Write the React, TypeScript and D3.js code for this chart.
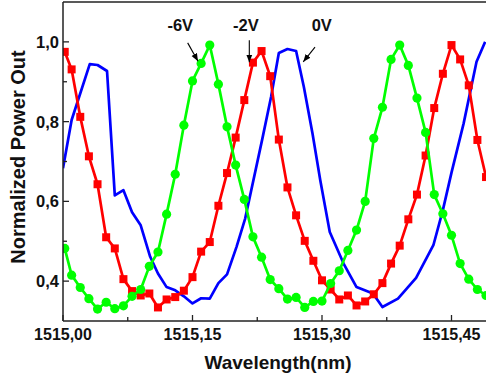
import React, { useEffect } from "react";
import * as d3 from "d3";

const wavelengths = [
  1515.002, 1515.01, 1515.02, 1515.03, 1515.04, 1515.05, 1515.06, 1515.07, 1515.08, 1515.09,
  1515.10, 1515.11, 1515.12, 1515.13, 1515.14, 1515.15, 1515.16, 1515.17, 1515.18, 1515.19,
  1515.20, 1515.21, 1515.22, 1515.23, 1515.24, 1515.25, 1515.26, 1515.27, 1515.28, 1515.29,
  1515.30, 1515.31, 1515.32, 1515.33, 1515.34, 1515.35, 1515.36, 1515.37, 1515.38, 1515.39,
  1515.40, 1515.41, 1515.42, 1515.43, 1515.44, 1515.45, 1515.46, 1515.47, 1515.48, 1515.49,
];

const red2V = [
  0.975, 0.931, 0.812, 0.713, 0.643, 0.51, 0.482, 0.405, 0.375, 0.364,
  0.369, 0.334, 0.354, 0.36, 0.376, 0.41, 0.474, 0.498, 0.589, 0.671,
  0.76, 0.854, 0.948, 0.977, 0.914, 0.755, 0.635, 0.565, 0.501, 0.451,
  0.402, 0.379, 0.354, 0.364, 0.339, 0.349, 0.367, 0.395, 0.444, 0.489,
  0.555, 0.617, 0.715, 0.834, 0.92, 0.992, 0.956, 0.891, 0.754, 0.661,
];

const green6V = [
  0.482, 0.415, 0.384, 0.356, 0.33, 0.347, 0.331, 0.338, 0.362, 0.379,
  0.437, 0.473, 0.568, 0.668, 0.791, 0.902, 0.946, 0.992, 0.894, 0.787,
  0.691, 0.605, 0.511, 0.46, 0.404, 0.381, 0.355, 0.359, 0.334, 0.349,
  0.35, 0.394, 0.426, 0.477, 0.528, 0.6, 0.758, 0.836, 0.956, 0.992,
  0.941, 0.859, 0.773, 0.617, 0.569, 0.515, 0.444, 0.405, 0.379, 0.364,
];

const blueWavelengths = [
  1515.0, 1515.01, 1515.031, 1515.04, 1515.051, 1515.06, 1515.07, 1515.08, 1515.09, 1515.101,
  1515.11, 1515.12, 1515.13, 1515.14, 1515.15, 1515.16, 1515.17, 1515.18, 1515.19, 1515.201,
  1515.211, 1515.231, 1515.241, 1515.25, 1515.26, 1515.27, 1515.279, 1515.289, 1515.298, 1515.309,
  1515.325, 1515.34, 1515.359, 1515.37, 1515.388, 1515.409, 1515.429, 1515.44, 1515.45, 1515.464,
  1515.479, 1515.489,
];
const blue0V = [
  0.683, 0.804, 0.944, 0.942, 0.927, 0.615, 0.628, 0.573, 0.54, 0.461,
  0.419, 0.385, 0.377, 0.362, 0.344, 0.357, 0.356, 0.395, 0.417, 0.486,
  0.557, 0.758, 0.862, 0.972, 0.982, 0.977, 0.887, 0.77, 0.653, 0.523,
  0.444, 0.385, 0.369, 0.335, 0.356, 0.408, 0.49, 0.578, 0.672, 0.795,
  0.95, 1.0,
];

const xMajorTicks = [1515.0, 1515.15, 1515.3, 1515.45];
const xMinorTicks = [1515.075, 1515.225, 1515.375];
const xTickLabels = ["1515,00", "1515,15", "1515,30", "1515,45"];
const yMajorTicks = [0.4, 0.6, 0.8, 1.0];
const yMinorTicks = [0.5, 0.7, 0.9];
const yTickLabels = ["0,4", "0,6", "0,8", "1,0"];

const annotations = [
  { text: "-6V", tx: 1515.121, ty: 1.027, x1: 1515.1444, y1: 0.9975, x2: 1515.1564, y2: 0.9516 },
  { text: "-2V", tx: 1515.1969, ty: 1.027, x1: 1515.2158, y1: 1.004, x2: 1515.2158, y2: 0.949 },
  { text: "0V", tx: 1515.288, ty: 1.027, x1: 1515.2919, y1: 0.987, x2: 1515.2783, y2: 0.95 },
];

const W = 486;
const H = 382;
const left = 63;
const right = 486;
const top = 2;
const bottom = 321;

const FONT = "'Liberation Sans', Arial, Helvetica, sans-serif";

export default function App() {
  useEffect(() => {
    document.body.style.margin = "0";
  }, []);

  const x = d3.scaleLinear().domain([1515.0, 1515.5]).range([left, left + (129.5 / 0.15) * 0.5]);
  const y = d3.scaleLinear().domain([0.3, 1.1]).range([bottom, top]);

  const line = d3
    .line<[number, number]>()
    .x((d) => x(d[0]))
    .y((d) => y(d[1]));

  const redPts: [number, number][] = wavelengths.map((w, i) => [w, red2V[i]]);
  const greenPts: [number, number][] = wavelengths.map((w, i) => [w, green6V[i]]);
  const bluePts: [number, number][] = blueWavelengths.map((w, i) => [w, blue0V[i]]);

  const axisColor = "#222";
  const sq = 8;

  return (
    <svg width={W} height={H} style={{ display: "block", position: "absolute", left: 0, top: 0 }}>
      <defs>
        <clipPath id="plot">
          <rect x={left} y={top} width={right - left} height={bottom - top} />
        </clipPath>
        <marker id="ah" viewBox="0 0 10 10" refX="10" refY="5" markerWidth="7" markerHeight="7" orient="auto">
          <path d="M0,1 L10,5 L0,9 Z" fill="#000" />
        </marker>
      </defs>
      <rect width={W} height={H} fill="#fff" />

      <g clipPath="url(#plot)">
        <path d={line(bluePts) || ""} fill="none" stroke="#0000ff" strokeWidth={2.7} strokeLinejoin="round" />
        <path d={line(redPts) || ""} fill="none" stroke="#ff0000" strokeWidth={2.7} strokeLinejoin="round" />
        {redPts.map((d, i) => (
          <rect key={"r" + i} x={x(d[0]) - sq / 2} y={y(d[1]) - sq / 2} width={sq} height={sq} fill="#ff0000" />
        ))}
        <path d={line(greenPts) || ""} fill="none" stroke="#00ff00" strokeWidth={2.7} strokeLinejoin="round" />
        {greenPts.map((d, i) => (
          <circle key={"g" + i} cx={x(d[0])} cy={y(d[1])} r={4.6} fill="#00ff00" />
        ))}
      </g>

      {/* frame */}
      <line x1={left} x2={right} y1={top} y2={top} stroke={axisColor} strokeWidth={1.5} />
      <line x1={left} x2={left} y1={top} y2={bottom} stroke={axisColor} strokeWidth={1.5} />
      <line x1={left} x2={right} y1={bottom} y2={bottom} stroke={axisColor} strokeWidth={1.5} />

      {/* y ticks */}
      {yMajorTicks.map((t, i) => (
        <g key={"ym" + i}>
          <line x1={left} x2={left + 6} y1={y(t)} y2={y(t)} stroke={axisColor} strokeWidth={1.3} />
          <text x={left - 4} y={y(t)} dy="0.36em" textAnchor="end" fontFamily={FONT} fontWeight="bold" fontSize={16.5} fill="#111">
            {yTickLabels[i]}
          </text>
        </g>
      ))}
      {yMinorTicks.map((t, i) => (
        <line key={"yn" + i} x1={left} x2={left + 4} y1={y(t)} y2={y(t)} stroke={axisColor} strokeWidth={1.3} />
      ))}

      {/* x ticks */}
      {xMajorTicks.map((t, i) => (
        <g key={"xm" + i}>
          <line x1={x(t)} x2={x(t)} y1={bottom} y2={bottom - 6} stroke={axisColor} strokeWidth={1.3} />
          <text x={x(t)} y={bottom + 19} textAnchor="middle" fontFamily={FONT} fontWeight="bold" fontSize={16} fill="#111">
            {xTickLabels[i]}
          </text>
        </g>
      ))}
      {xMinorTicks.map((t, i) => (
        <line key={"xn" + i} x1={x(t)} x2={x(t)} y1={bottom} y2={bottom - 4} stroke={axisColor} strokeWidth={1.3} />
      ))}

      {/* axis titles */}
      <text x={278} y={369} textAnchor="middle" fontFamily={FONT} fontWeight="bold" fontSize={19} fill="#111">
        Wavelength(nm)
      </text>
      <text
        transform={`translate(25,157) rotate(-90)`}
        textAnchor="middle"
        fontFamily={FONT}
        fontWeight="bold"
        fontSize={20}
        fill="#111"
      >
        Normalized Power Out
      </text>

      {/* annotations */}
      {annotations.map((a, i) => (
        <g key={"a" + i}>
          <text x={x(a.tx)} y={y(a.ty)} fontFamily={FONT} fontWeight="bold" fontSize={16.5} fill="#111">
            {a.text}
          </text>
          <line x1={x(a.x1)} y1={y(a.y1)} x2={x(a.x2)} y2={y(a.y2)} stroke="#000" strokeWidth={1.1} markerEnd="url(#ah)" />
        </g>
      ))}
    </svg>
  );
}
